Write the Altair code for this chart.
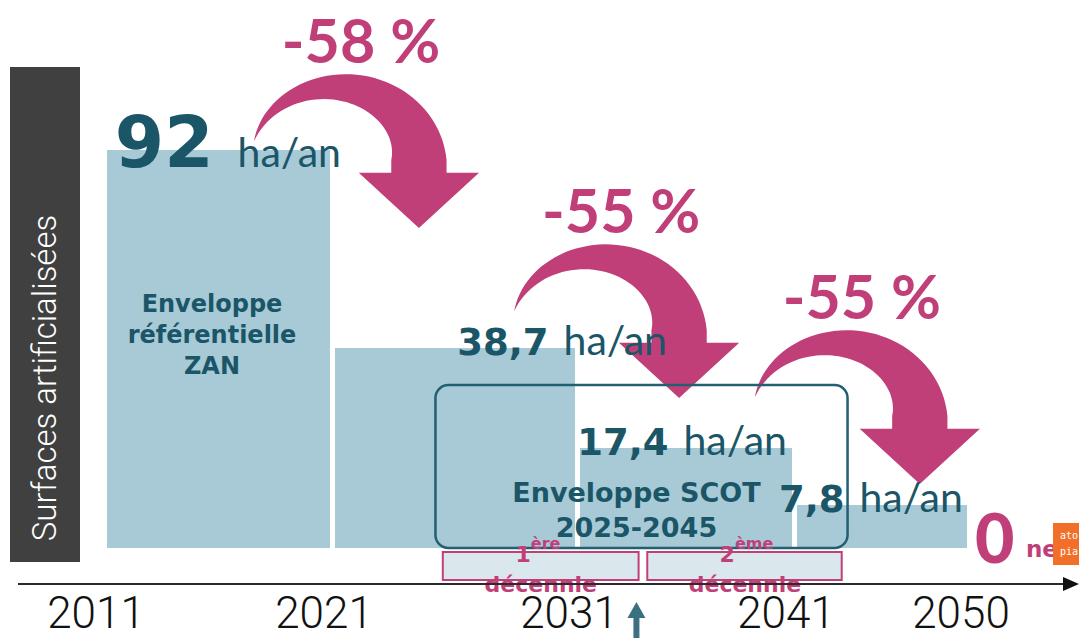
import altair as alt
import numpy as np
import pandas as pd

# ---------------- data ----------------
YEARS = [2011, 2021, 2031, 2041, 2050]
YEAR_LABELS = ["2011", "2021", "2031", "2041", "2050"]
PERIOD_START = [2011, 2021, 2031, 2041]
PERIOD_END = [2021, 2031, 2041, 2050]
RATES = [92, 38.7, 17.4, 7.8]
RATE_TEXT = ["92", "38,7", "17,4", "7,8"]
LABEL_YEAR = [2016.2, 2030.0, 2035.4, 2043.8]      # where each "xx ha/an" label sits
DROPS = ["-58 %", "-55 %", "-55 %"]
ARROW_YEAR = [2021.0, 2031.7, 2043.0]               # arrow anchors (year, ha/an)
ARROW_RATE = [89.3, 43.5, 24.2]
ZAN_TEXT = ["Enveloppe", "référentielle", "ZAN"]
ZAN_YEAR, ZAN_RATE = 2016.0, 48.4
SCOT_TEXT = ["Enveloppe SCOT", "2025-2045"]
SCOT_YEAR, SCOT_RATE = 2033.6, 8.3
SCOT_START, SCOT_END, SCOT_TOP = 2025.1, 2043.6, 30.8
DECADE_START = [2025.4, 2034.1]
DECADE_END = [2033.7, 2043.3]
DECADE_MID = [2029.4, 2038.6]
DECADE_NUM = ["1", "2"]
DECADE_SUP = ["ère", "ème"]
ZERO_YEAR = 2050
NOW_YEAR = 2033.6

# ---------------- styles ----------------
BAR = "#a7cad6"
TEAL = "#1b5668"
PINK = "#c13f78"
BOXC = "#225f71"
DARK = "#404040"
BOLD = "DejaVu Sans"
LIGHT = "Lato"
THIN = "Roboto, DejaVu Sans Condensed, sans-serif"

xs = alt.Scale(domain=YEARS, range=[99, 327, 572, 789, 964], nice=False, zero=False)
ydom = sorted([0] + RATES)
ys = alt.Scale(domain=ydom, range=[540, 497, 440, 340, 142], nice=False, zero=False)


def X(f):
    return alt.X(f, type="quantitative", scale=xs, axis=None)


def Y(f):
    return alt.Y(f, type="quantitative", scale=ys, axis=None)


def arrow_path(rx=86.5, ry=75.0, w0=57.0, a0=165.0):
    th_deg = np.linspace(a0, 0, 48)
    th = np.radians(th_deg)
    w = w0 * (1 - th_deg / a0)
    outer = [((rx + wi / 2) * np.cos(t), -(ry + wi / 2) * np.sin(t)) for t, wi in zip(th, w)]
    inner = [((rx - wi / 2) * np.cos(t), -(ry - wi / 2) * np.sin(t)) for t, wi in zip(th, w)][::-1]
    head = [(rx + w0 / 2, 13), (rx + 62, 13), (rx, 70), (rx - 62, 13), (rx - w0 / 2, 13)]
    pts = outer + head + inner
    return "M" + "L".join(f"{x:.1f},{y:.1f}" for x, y in pts) + "Z"


bars_df = pd.DataFrame({"start": PERIOD_START, "end": PERIOD_END, "rate": RATES, "zero": 0})
labels_df = pd.DataFrame({"year": LABEL_YEAR, "rate": RATES, "txt": RATE_TEXT, "unit": "ha/an"})
arrows_df = pd.DataFrame({"year": ARROW_YEAR, "rate": ARROW_RATE, "drop": DROPS})
years_df = pd.DataFrame({"year": YEARS, "lab": YEAR_LABELS, "zero": 0})
dec_df = pd.DataFrame({"s": DECADE_START, "e": DECADE_END, "mid": DECADE_MID,
                       "num": DECADE_NUM, "sup": DECADE_SUP, "zero": 0})
zan_df = pd.DataFrame({"year": [ZAN_YEAR], "rate": [ZAN_RATE], "txt": [ZAN_TEXT]})
scot_df = pd.DataFrame({"year": [SCOT_YEAR], "rate": [SCOT_RATE], "txt": [SCOT_TEXT],
                        "s": [SCOT_START], "e": [SCOT_END], "top": [SCOT_TOP], "zero": [0]})
zero_df = pd.DataFrame({"year": [ZERO_YEAR], "zero": [0], "txt": ["0"], "net": ["ne"]})
now_df = pd.DataFrame({"year": [NOW_YEAR]})
one = pd.DataFrame({"a": [0]})

bars = alt.Chart(bars_df).mark_bar(color=BAR, x2Offset=-5).encode(
    x=X("start"), x2="end", y=Y("rate"), y2="zero")

arrows = alt.Chart(arrows_df).mark_point(
    shape=arrow_path(), filled=True, size=4 * 0.97 ** 2, color=PINK, opacity=1, strokeWidth=0
).encode(x=X("year"), y=Y("rate"))

drops = alt.Chart(arrows_df).mark_text(
    font=LIGHT, fontWeight="bold", fontSize=61, color=PINK, align="center", baseline="alphabetic",
    dx=26, dy=-97
).encode(x=X("year"), y=Y("rate"), text="drop:N")

scot_box = alt.Chart(scot_df).mark_rect(
    fill="transparent", stroke=BOXC, strokeWidth=2.5, cornerRadius=13
).encode(x=X("s"), x2="e", y=Y("top"), y2="zero")

dec_box = alt.Chart(dec_df).mark_rect(
    fill="#dae8ee", stroke=PINK, strokeWidth=2
).encode(x=X("s"), x2="e", y=alt.value(544), y2=alt.value(572))

dec_num = alt.Chart(dec_df).mark_text(
    font=BOLD, fontWeight="bold", fontSize=22, color=PINK, align="right", baseline="alphabetic", dx=-10, dy=14
).encode(x=X("mid"), y=Y("zero"), text="num:N")
dec_sup = alt.Chart(dec_df).mark_text(
    font=BOLD, fontWeight="bold", fontSize=16, color=PINK, align="left", baseline="alphabetic", dx=-10, dy=1
).encode(x=X("mid"), y=Y("zero"), text="sup:N")
dec_word = alt.Chart(dec_df).mark_text(
    font=BOLD, fontWeight="bold", fontSize=22, color=PINK, align="center", baseline="alphabetic", dy=44
).encode(x=X("mid"), y=Y("zero"), text=alt.value("décennie"))

big_num = alt.Chart(labels_df).transform_filter("datum.rate > 50").mark_text(
    font=BOLD, fontWeight="bold", fontSize=71, color=TEAL, align="right", baseline="alphabetic", dx=-12, dy=17
).encode(x=X("year"), y=Y("rate"), text="txt:N")
big_unit = alt.Chart(labels_df).transform_filter("datum.rate > 50").mark_text(
    font=LIGHT, fontSize=41, color=TEAL, align="left", baseline="alphabetic", dx=12, dy=17
).encode(x=X("year"), y=Y("rate"), text="unit:N")
small_num = alt.Chart(labels_df).transform_filter("datum.rate < 50").mark_text(
    font=BOLD, fontWeight="bold", fontSize=37, color=TEAL, align="right", baseline="alphabetic", dx=-7, dy=7
).encode(x=X("year"), y=Y("rate"), text="txt:N")
small_unit = alt.Chart(labels_df).transform_filter("datum.rate < 50").mark_text(
    font=LIGHT, fontSize=41, color=TEAL, align="left", baseline="alphabetic", dx=8, dy=7
).encode(x=X("year"), y=Y("rate"), text="unit:N")

zan = alt.Chart(zan_df).mark_text(
    font=BOLD, fontWeight="bold", fontSize=24, color=TEAL, align="center", baseline="alphabetic",
    dx=-9, lineHeight=31
).encode(x=X("year"), y=Y("rate"), text="txt")

scot = alt.Chart(scot_df).mark_text(
    font=BOLD, fontWeight="bold", fontSize=27, color=TEAL, align="center", baseline="alphabetic",
    lineHeight=35
).encode(x=X("year"), y=Y("rate"), text="txt")

years_txt = alt.Chart(years_df).mark_text(
    font=THIN, fontWeight=300, fontSize=44, color="#111111", align="center", baseline="alphabetic",
    dx=-11, dy=80
).encode(x=X("year"), y=Y("zero"), text="lab:N")

zero_txt = alt.Chart(zero_df).mark_text(
    font=LIGHT, fontWeight=900, fontSize=68, color=PINK, align="left", baseline="alphabetic", dx=3, dy=15
).encode(x=X("year"), y=Y("zero"), text="txt:N")
net_txt = alt.Chart(zero_df).mark_text(
    font=BOLD, fontWeight="bold", fontSize=23, color=PINK, align="left", baseline="alphabetic", dx=54, dy=9
).encode(x=X("year"), y=Y("zero"), text="net:N")

axis_line = alt.Chart(one).mark_rule(color="#2b2b2b", strokeWidth=2).encode(
    x=alt.value(10), x2=alt.value(1058), y=alt.value(576))
axis_head = alt.Chart(one).mark_point(
    shape="M0,-7L16,0L0,7Z", filled=True, size=4, color="#111111", opacity=1, strokeWidth=0
).encode(x=alt.value(1055), y=alt.value(576))

ytitle_box = alt.Chart(one).mark_rect(color=DARK).encode(
    x=alt.value(2), x2=alt.value(72), y=alt.value(59), y2=alt.value(554))
ytitle = alt.Chart(one).mark_text(
    font=THIN, fontWeight=300, fontSize=33, color="white", angle=270, align="center", baseline="middle"
).encode(x=alt.value(38), y=alt.value(370), text=alt.value("Surfaces artificialisées"))

logo_box = alt.Chart(one).mark_rect(color="#f26f2a").encode(
    x=alt.value(1045), x2=alt.value(1085), y=alt.value(515), y2=alt.value(557))
logo_txt = alt.Chart(one).mark_text(
    font="DejaVu Sans Mono", fontSize=10, color="white", align="left", baseline="alphabetic", lineHeight=16
).encode(x=alt.value(1052), y=alt.value(531), text=alt.value(["ato", "pia"]))

now_shaft = alt.Chart(now_df).mark_rule(color="#3b7082", strokeWidth=6).encode(
    x=X("year"), y=alt.value(606), y2=alt.value(632))
now_head = alt.Chart(now_df).mark_point(
    shape="M-9,0L9,0L0,-16Z", filled=True, size=4, color="#3b7082", opacity=1, strokeWidth=0
).encode(x=X("year"), y=alt.value(610))

chart = alt.layer(
    bars, arrows, scot_box, dec_box, drops, big_num, big_unit, small_num, small_unit, zan, scot,
    dec_num, dec_sup, dec_word, years_txt, zero_txt, net_txt, axis_line, axis_head,
    ytitle_box, ytitle, logo_box, logo_txt, now_shaft, now_head
).properties(
    width=1071, height=630, padding=0,
    autosize=alt.AutoSizeParams(type="none"), background="white"
).configure_view(stroke=None)

chart.save("out.html", embed_options={"renderer": "svg", "actions": False})
